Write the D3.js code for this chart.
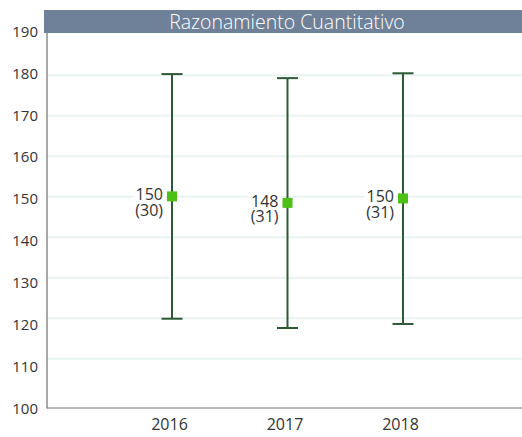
<!DOCTYPE html>
<html>
<head>
<meta charset="utf-8">
<script src="https://cdn.jsdelivr.net/npm/d3@7"></script>
<style>
	body { margin: 0; background: #fff; }
	text { font-family: "Open Sans", sans-serif; }
</style>
</head>
<body>
<div id="chart"></div>
<script>
// chart values
const title = "Razonamiento Cuantitativo";
const years = ["2016", "2017", "2018"];
const means = [150.1, 148.5, 149.6];
const lows = [119.9, 117.6, 118.6];
const highs = [180.3, 179.3, 180.5];
const meanLabels = ["150", "148", "150"];
const sdLabels = ["(30)", "(31)", "(31)"];
const yTicks = [100, 110, 120, 130, 140, 150, 160, 170, 180, 190];
const gridTicks = [110, 120, 130, 140, 150, 160, 170, 180];

const width = 522, height = 437;
const margin = { top: 33, right: 0, bottom: 29, left: 47 };

const svg = d3.select("#chart").append("svg")
	.attr("width", width)
	.attr("height", height);

// scales: data/grid scale and the label scale of the axis
const x = d3.scalePoint()
	.domain(years)
	.range([56.5, 518.5])
	.padding(1);
const y = d3.scaleLinear().domain([100, 190]).range([399.3, 34.8]);
const yLabel = d3.scaleLinear().domain([100, 190]).range([408.5, 31.5]);

// title bar
svg.append("rect")
	.attr("x", 44).attr("y", 10)
	.attr("width", width - 44).attr("height", 23)
	.attr("fill", "#6e8198");
svg.append("text")
	.attr("x", 287).attr("y", 28.5)
	.attr("text-anchor", "middle")
	.attr("fill", "#fff")
	.style("font-size", "19.5px")
	.style("font-weight", 300)
	.text(title);

// gridlines
svg.append("g")
	.selectAll("line")
	.data(gridTicks)
	.enter().append("line")
	.attr("x1", margin.left).attr("x2", width)
	.attr("y1", d => y(d)).attr("y2", d => y(d))
	.attr("stroke", "#e9f3ef")
	.attr("stroke-width", 2);

// y axis
const yAxis = svg.append("g")
	.attr("transform", "translate(" + margin.left + ",0)")
	.call(d3.axisLeft(yLabel).tickValues(yTicks).tickSize(0).tickPadding(9).tickFormat(d3.format("d")));
yAxis.select(".domain").remove();
yAxis.selectAll("text")
	.style("font-size", "15px")
	.style("font-family", "'Open Sans', sans-serif")
	.attr("fill", "#333");
svg.append("line")
	.attr("x1", margin.left).attr("x2", margin.left)
	.attr("y1", margin.top).attr("y2", height - margin.bottom + 0.5)
	.attr("stroke", "#555");

// x axis
const xAxis = svg.append("g")
	.attr("transform", "translate(0," + (height - margin.bottom) + ")")
	.call(d3.axisBottom(x).tickSize(0).tickPadding(11));
xAxis.select(".domain").remove();
xAxis.selectAll("text")
	.style("font-size", "16px")
	.style("font-family", "'Open Sans', sans-serif")
	.attr("fill", "#333")
	.attr("dx", -3);
svg.append("line")
	.attr("x1", margin.left).attr("x2", width)
	.attr("y1", height - margin.bottom).attr("y2", height - margin.bottom)
	.attr("stroke", "#777");

// error bars
const bars = svg.append("g")
	.selectAll("g")
	.data(years)
	.enter().append("g");

bars.append("line")
	.attr("x1", d => x(d)).attr("x2", d => x(d))
	.attr("y1", (d, i) => y(lows[i])).attr("y2", (d, i) => y(highs[i]))
	.attr("stroke", "#2d5a35").attr("stroke-width", 2);
bars.append("line")
	.attr("x1", d => x(d) - 10.5).attr("x2", d => x(d) + 10.5)
	.attr("y1", (d, i) => y(highs[i])).attr("y2", (d, i) => y(highs[i]))
	.attr("stroke", "#2d5a35").attr("stroke-width", 2);
bars.append("line")
	.attr("x1", d => x(d) - 10.5).attr("x2", d => x(d) + 10.5)
	.attr("y1", (d, i) => y(lows[i])).attr("y2", (d, i) => y(lows[i]))
	.attr("stroke", "#2d5a35").attr("stroke-width", 2);
bars.append("rect")
	.attr("x", d => x(d) - 5).attr("y", (d, i) => y(means[i]) - 5)
	.attr("width", 10).attr("height", 10)
	.attr("fill", "#4cc114");

// mean and sd labels, with white boxes behind them
bars.each(function(d, i) {
	const g = d3.select(this);
	const bg = g.append("rect").attr("fill", "#fff");
	const t = g.append("text")
		.attr("text-anchor", "end")
		.attr("fill", "#333")
		.style("font-size", "16px");
	t.append("tspan")
		.attr("x", x(d) - 9).attr("y", y(means[i]) + 4)
		.text(meanLabels[i]);
	t.append("tspan")
		.attr("x", x(d) - 9).attr("y", y(means[i]) + 19.5)
		.text(sdLabels[i]);
	const b = t.node().getBBox();
	bg.attr("x", b.x - 2).attr("y", b.y)
		.attr("width", b.width + 4).attr("height", b.height);
});
</script>
</body>
</html>
